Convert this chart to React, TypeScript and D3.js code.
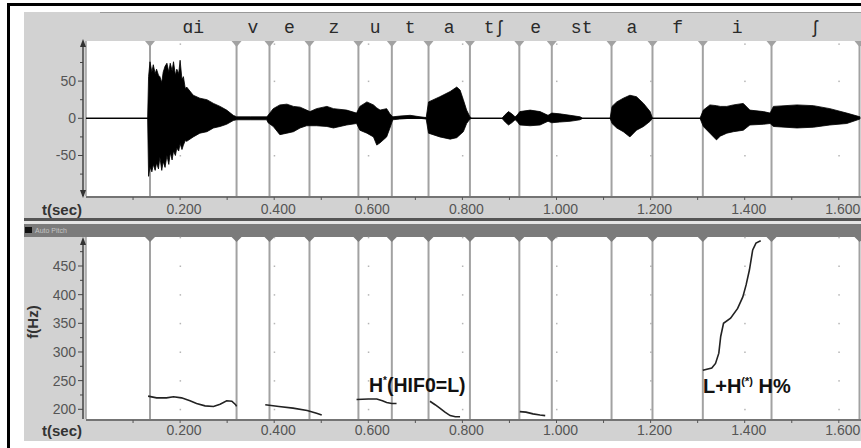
import React from 'react';
import * as d3 from 'd3';

const W = 861;
const H = 448;

// Segment boundaries (s) and phone labels
const boundaries = [0.136, 0.32, 0.39, 0.475, 0.579, 0.65, 0.728, 0.816, 0.921, 0.99, 1.117, 1.204, 1.311, 1.457, 1.644];
const phones = ['ɑi', 'v', 'e', 'z', 'u', 't', 'a', 'tʃ', 'e', 'st', 'a', 'f', 'i', 'ʃ'];

// Axis ticks
const xTickValues = [0.2, 0.4, 0.6, 0.8, 1.0, 1.2, 1.4, 1.6];
const xTickLabels = ['0.200', '0.400', '0.600', '0.800', '1.000', '1.200', '1.400', '1.600'];
const xMinorTicks = [0.1, 0.3, 0.5, 0.7, 0.9, 1.1, 1.3, 1.5];
const waveTicks = [50, 0, -50];
const waveMinorTicks = [75, 25, -25, -75];
const pitchTicks = [200, 250, 300, 350, 400, 450];
const pitchMinorTicks = [225, 275, 325, 375, 425, 475];

// Waveform envelope
const waveTime = [0, 0.131, 0.133, 0.136, 0.14, 0.143, 0.147, 0.15, 0.154, 0.157, 0.161, 0.164, 0.168, 0.172, 0.176, 0.179, 0.183, 0.186, 0.19, 0.193, 0.197, 0.2, 0.204, 0.207, 0.211, 0.214, 0.228, 0.242, 0.257, 0.271, 0.285, 0.299, 0.313, 0.32, 0.349, 0.384, 0.387, 0.398, 0.412, 0.427, 0.441, 0.455, 0.469, 0.476, 0.49, 0.512, 0.526, 0.554, 0.575, 0.582, 0.597, 0.611, 0.618, 0.625, 0.639, 0.646, 0.652, 0.667, 0.689, 0.71, 0.723, 0.728, 0.752, 0.774, 0.788, 0.795, 0.802, 0.809, 0.816, 0.82, 0.884, 0.891, 0.898, 0.905, 0.912, 0.916, 0.922, 0.944, 0.965, 0.982, 0.99, 1.007, 1.029, 1.05, 1.056, 1.114, 1.118, 1.128, 1.142, 1.156, 1.17, 1.185, 1.199, 1.204, 1.305, 1.312, 1.326, 1.34, 1.348, 1.362, 1.376, 1.397, 1.411, 1.44, 1.454, 1.461, 1.511, 1.546, 1.581, 1.617, 1.645];
const waveUpper = [0, 0, 56, 76, 62, 72, 60, 66, 58, 56, 48, 62, 70, 74, 62, 74, 64, 76, 58, 66, 60, 78, 52, 56, 40, 42, 31, 27, 25, 20, 16, 11, 4, 2, 2, 2, 4, 13, 18, 19, 16, 15, 11, 9, 13, 16, 13, 11, 7, 16, 22, 18, 14, 11, 13, 6, 2, 3, 4, 2, 1, 22, 29, 36, 42, 38, 25, 11, 2, 0, 0, 5, 9, 6, 2, 4, 9, 11, 9, 4, 7, 6, 4, 2, 0, 0, 16, 22, 27, 31, 29, 20, 9, 0, 0, 11, 18, 17, 16, 16, 18, 20, 11, 9, 7, 16, 18, 17, 13, 7, 2];
const waveLower = [0, 0, -78, -65, -72, -62, -70, -60, -68, -52, -70, -58, -66, -50, -62, -46, -56, -44, -50, -40, -44, -34, -42, -36, -30, -31, -25, -20, -18, -13, -11, -8, -3, -2, -2, -2, -6, -11, -22, -20, -18, -13, -10, -10, -10, -11, -13, -9, -7, -16, -20, -25, -36, -33, -25, -13, -2, -1, 0, 0, -1, -20, -25, -28, -26, -22, -18, -7, -1, 0, 0, -5, -9, -6, -2, -4, -9, -10, -9, -4, -6, -5, -4, -2, 0, 0, -7, -13, -18, -25, -16, -11, -4, 0, 0, -11, -20, -29, -24, -20, -18, -16, -9, -8, -7, -11, -13, -12, -9, -7, -1];

// Pitch tracks (time s, f0 Hz)
const pitchAi = [[0.132, 223], [0.15, 220], [0.171, 220], [0.186, 222], [0.203, 220], [0.221, 215], [0.235, 210], [0.253, 206], [0.271, 205], [0.285, 209], [0.299, 215], [0.31, 214], [0.318, 208], [0.32, 205]];
const pitchE = [[0.381, 208], [0.41, 205], [0.44, 202], [0.47, 198], [0.49, 193], [0.501, 190]];
const pitchU = [[0.575, 217], [0.6, 218], [0.618, 218], [0.63, 215], [0.639, 212], [0.65, 210], [0.66, 210]];
const pitchA = [[0.731, 214], [0.742, 208], [0.752, 202], [0.763, 195], [0.774, 189], [0.785, 187], [0.795, 187]];
const pitchE2 = [[0.922, 196], [0.935, 195], [0.95, 192], [0.965, 190], [0.976, 189]];
const pitchI = [[1.311, 268], [1.33, 272], [1.338, 280], [1.345, 298], [1.349, 327], [1.355, 350], [1.37, 359], [1.385, 376], [1.396, 396], [1.403, 417], [1.41, 443], [1.417, 478], [1.424, 490], [1.434, 494]];

const x = d3.scaleLinear().domain([0, 1.6]).range([86, 838.8]);
const yW = d3.scaleLinear().domain([-100, 100]).range([192.7, 43.9]);
const yP = d3.scaleLinear().domain([200, 450]).range([409.3, 266]);

const TOP = { y0: 41, y1: 196 };
const BOT = { y0: 237, y1: 419 };
const PLOT_X0 = 86;
const PLOT_X1 = 861;
const GRAY = '#d2d2d2';
const LINE = '#a2a2a2';
const FONT = 'Liberation Sans, Arial, sans-serif';

export default function App() {
  const waveArea = d3
    .area<number>()
    .x((_, i) => x(waveTime[i]))
    .y0((_, i) => yW(waveLower[i]))
    .y1((_, i) => yW(waveUpper[i]))
    .curve(d3.curveLinear);
  const pitchLine = d3
    .line<number[]>()
    .x((d) => x(d[0]))
    .y((d) => yP(d[1]));
  const tracks = [pitchAi, pitchE, pitchU, pitchA, pitchE2, pitchI];
  const mids = phones.map((_, i) => (boundaries[i] + boundaries[i + 1]) / 2);
  const allXTicks = [...xTickValues, ...xMinorTicks];

  const yAxis = (
    scale: d3.ScaleLinear<number, number>,
    ticks: number[],
    minor: number[],
    y0: number,
    y1: number,
    key: string,
    bottomArrow: boolean
  ) => (
    <g key={key}>
      <line x1={83} x2={83} y1={y0 + 1} y2={y1} stroke="#444" strokeWidth={1.5} />
      <path d={`M83,${y0 - 2} L80,${y0 + 6} L86,${y0 + 6} Z`} fill="#333" />
      {bottomArrow && <path d={`M83,${y1 + 2} L80,${y1 - 6} L86,${y1 - 6} Z`} fill="#333" />}
      {ticks.map((t) => (
        <g key={`t${t}`}>
          <line x1={78} x2={83} y1={scale(t)} y2={scale(t)} stroke="#444" />
          <text x={76} y={scale(t)} dy="0.35em" textAnchor="end" fontSize={14} fontFamily={FONT} fill="#555">
            {t}
          </text>
        </g>
      ))}
      {minor.map((t) => (
        <line key={`m${t}`} x1={80} x2={83} y1={scale(t)} y2={scale(t)} stroke="#444" />
      ))}
    </g>
  );

  const xAxis = (yLine: number, yLabel: number, key: string) => (
    <g key={key}>
      <line x1={PLOT_X0} x2={PLOT_X1} y1={yLine} y2={yLine} stroke="#555" strokeWidth={1.5} />
      {allXTicks.map((t) => (
        <line key={t} x1={x(t)} x2={x(t)} y1={yLine} y2={yLine + 3} stroke="#555" />
      ))}
      {xTickValues.map((t, i) => (
        <text key={`l${t}`} x={x(t) + 4} y={yLabel} textAnchor="middle" fontSize={14} fontFamily={FONT} fill="#555">
          {xTickLabels[i]}
        </text>
      ))}
      <text x={42} y={yLabel + 1} fontSize={15} fontWeight="bold" fontFamily={FONT} fill="#333">
        t(sec)
      </text>
    </g>
  );

  const dots = (scale: d3.ScaleLinear<number, number>, vals: number[], key: string) => (
    <g key={key}>
      {xTickValues.map((t) =>
        vals.map((v) => <rect key={`${t}-${v}`} x={x(t) - 0.5} y={scale(v) - 0.5} width={1.5} height={1.5} fill="#b5b5b5" />)
      )}
    </g>
  );

  return (
    <svg width={W} height={H} style={{ position: 'absolute', left: 0, top: 0, background: '#fff' }}>
      {/* outer frame */}
      <line x1={8.5} x2={8.5} y1={3} y2={H} stroke="#000" strokeWidth={3} />
      <line x1={7} x2={W} y1={4.5} y2={4.5} stroke="#000" strokeWidth={3} />

      {/* panels */}
      <rect x={24} y={12} width={W - 24} height={206} fill={GRAY} />
      <line x1={100} x2={W} y1={12.5} y2={12.5} stroke="#999" />
      <rect x={24} y={218} width={W - 24} height={3} fill="#555" />
      <rect x={24} y={221} width={W - 24} height={3} fill="#e4e4e4" />
      <rect x={24} y={224} width={W - 24} height={13} fill="#7b7b7b" />
      <rect x={25} y={227} width={7} height={6} fill="#111" />
      <text x={35} y={233} fontSize={7} fontFamily={FONT} fill="#c4c4c4">
        Auto Pitch
      </text>
      <rect x={24} y={237} width={W - 24} height={204} fill={GRAY} />

      {/* plot areas */}
      <rect x={PLOT_X0} y={TOP.y0} width={PLOT_X1 - PLOT_X0} height={TOP.y1 - TOP.y0} fill="#fff" />
      <rect x={PLOT_X0} y={BOT.y0} width={PLOT_X1 - PLOT_X0} height={BOT.y1 - BOT.y0} fill="#fff" />
      <line x1={PLOT_X0} x2={PLOT_X0} y1={TOP.y0} y2={TOP.y1} stroke={LINE} strokeWidth={1.5} />
      <line x1={PLOT_X0} x2={PLOT_X0} y1={BOT.y0} y2={BOT.y1} stroke={LINE} strokeWidth={1.5} />

      {dots(yW, [100, 50, -50], 'dw')}
      {dots(yP, [200, 250, 300, 350, 400, 450, 500], 'dp')}

      {/* boundaries */}
      {boundaries.map((b) => (
        <g key={b}>
          <line x1={x(b)} x2={x(b)} y1={TOP.y0} y2={TOP.y1} stroke={LINE} strokeWidth={2} />
          <path d={`M${x(b) - 5},${TOP.y0} L${x(b) + 5},${TOP.y0} L${x(b)},${TOP.y0 + 6} Z`} fill={LINE} />
          <line x1={x(b)} x2={x(b)} y1={BOT.y0} y2={BOT.y1} stroke={LINE} strokeWidth={2} />
          <path d={`M${x(b) - 6},${BOT.y0 - 1} L${x(b) + 6},${BOT.y0 - 1} L${x(b)},${BOT.y0 + 5} Z`} fill="#7b7b7b" />
        </g>
      ))}

      {/* phone labels */}
      {phones.map((p, i) => (
        <text key={i} x={x(mids[i])} y={33} textAnchor="middle" fontSize={18} fontFamily="Liberation Mono, DejaVu Sans Mono, monospace" fill="#2a2a2a">
          {p}
        </text>
      ))}

      {/* waveform */}
      <line x1={PLOT_X0} x2={PLOT_X1 - 2} y1={yW(0)} y2={yW(0)} stroke="#111" strokeWidth={1.2} />
      <path d={waveArea(waveTime) || ''} fill="#000" stroke="#000" strokeWidth={0.8} strokeLinejoin="miter" />

      {/* pitch */}
      {tracks.map((tr, i) => (
        <path key={i} d={pitchLine(tr) || ''} fill="none" stroke="#222" strokeWidth={1.6} />
      ))}

      {/* axes */}
      {yAxis(yW, waveTicks, waveMinorTicks, TOP.y0, TOP.y1, 'yw', true)}
      {xAxis(197, 214, 'xw')}
      {yAxis(yP, pitchTicks, pitchMinorTicks, BOT.y0 + 2, BOT.y1, 'yp', false)}
      {xAxis(420, 435, 'xp')}

      <text transform="translate(38,322) rotate(-90)" textAnchor="middle" fontSize={15} fontWeight="bold" fontFamily={FONT} fill="#333">
        f(Hz)
      </text>

      {/* annotations */}
      <text x={369} y={392} fontSize={19.5} fontWeight="bold" fontFamily={FONT} fill="#111">
        H<tspan dy={-8} fontSize={10}>*</tspan>
        <tspan dy={8}>(HIF0=L)</tspan>
      </text>
      <text x={703} y={393} fontSize={20} fontWeight="bold" fontFamily={FONT} fill="#111">
        L+H<tspan dy={-8} fontSize={11}>(*)</tspan>
        <tspan dy={8}> H%</tspan>
      </text>
    </svg>
  );
}
